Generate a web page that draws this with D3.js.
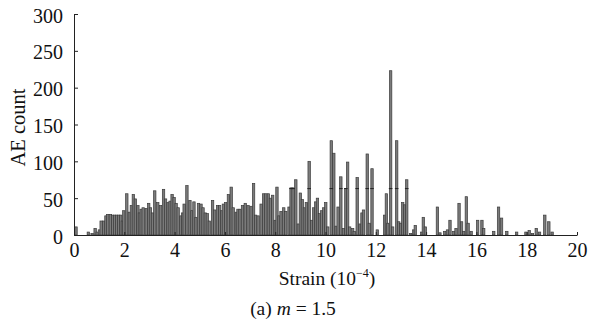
<!DOCTYPE html>
<html>
<head>
<meta charset="utf-8">
<script src="https://cdn.jsdelivr.net/npm/d3@7"></script>
<style>
  html, body { margin: 0; padding: 0; background: #fff; }
  svg text { font-family: "Liberation Serif", "DejaVu Serif", serif; fill: #111; }
</style>
</head>
<body>
<svg id="chart" width="594" height="320"></svg>
<script>
// --- data: strain (10^-4) and AE count per event bar ---
const strain = [
  0.08, 0.57, 0.72, 0.84, 0.92, 1.01, 1.08, 1.18, 1.27, 1.34, 1.45, 1.54, 1.62, 1.70, 1.78, 1.86, 1.92, 1.98,
  2.10, 2.20, 2.28, 2.36, 2.44, 2.54, 2.60, 2.67, 2.75, 2.87, 2.97, 3.04, 3.12, 3.21, 3.33, 3.44, 3.56, 3.64,
  3.74, 3.82, 3.90, 3.98, 4.06, 4.14, 4.25, 4.32, 4.38, 4.49, 4.61, 4.69, 4.77, 4.85, 4.95, 5.05, 5.13, 5.22,
  5.30, 5.38, 5.51, 5.59, 5.71, 5.79, 5.87, 5.94, 6.03, 6.14, 6.25, 6.33, 6.45, 6.52, 6.60, 6.70, 6.81, 6.92,
  7.04, 7.14, 7.22, 7.32, 7.44, 7.54, 7.63, 7.73, 7.81, 7.90, 8.00, 8.07, 8.15, 8.23, 8.34, 8.42, 8.55, 8.63,
  8.71, 8.82, 8.92, 9.00, 9.08, 9.16, 9.24, 9.35, 9.45, 9.53, 9.61, 9.68, 9.76, 9.84, 9.93, 10.01, 10.09,
  10.23, 10.33, 10.42, 10.50, 10.61, 10.72, 10.81, 10.88, 10.96, 11.08, 11.14, 11.26, 11.37, 11.45, 11.51,
  11.66, 11.74, 11.85, 12.06, 12.35, 12.42, 12.48, 12.59, 12.67, 12.83, 12.91, 12.99, 13.07, 13.15, 13.23,
  13.39, 13.51, 13.57, 13.83, 13.89, 13.97, 14.45, 14.55, 14.74, 14.85, 14.95, 15.10, 15.19, 15.31, 15.41,
  15.50, 15.60, 15.67, 15.79, 16.05, 16.22, 16.29, 16.69, 16.88, 17.00, 17.21, 17.60, 17.97, 18.10, 18.23,
  18.38, 18.51, 18.72, 18.88, 19.01
];
const aeCount = [
  11, 4, 2, 9, 4, 7, 19, 19, 26, 28, 28, 27, 27, 27, 27, 27, 19, 33,
  56, 31, 40, 55, 49, 40, 30, 35, 37, 36, 43, 37, 30, 60, 44, 40, 62, 49,
  44, 46, 55, 51, 43, 37, 26, 30, 42, 67, 47, 33, 45, 24, 43, 42, 37, 30,
  29, 19, 47, 34, 40, 40, 33, 42, 44, 55, 65, 37, 31, 35, 35, 40, 43, 40,
  39, 70, 27, 26, 42, 56, 56, 56, 50, 54, 20, 65, 26, 32, 37, 32, 38, 64,
  64, 75, 15, 57, 48, 37, 44, 100, 20, 37, 45, 50, 29, 33, 37, 44, 11,
  128, 111, 12, 38, 79, 9, 63, 99, 11, 9, 5, 78, 15, 30, 34,
  110, 16, 90, 7, 27, 56, 16, 223, 11, 128, 18, 16, 44, 41, 75,
  2, 7, 13, 4, 24, 11, 38, 3, 5, 7, 20, 5, 9, 43, 18,
  5, 52, 16, 5, 20, 20, 9, 5, 38, 23, 5, 4, 4, 6, 2,
  9, 4, 27, 18, 4
];
// dark dashes seen across the tall bars (tops of hidden overlapping bars)
const dashStrain = [8.63, 8.71, 9.35, 10.23, 10.61, 10.81, 11.26, 11.66, 11.85, 12.59, 12.83, 13.23];
const dashCount = 63;

const xTicks = [0, 2, 4, 6, 8, 10, 12, 14, 16, 18, 20];
const yTicks = [0, 50, 100, 150, 200, 250, 300];

const svg = d3.select("#chart");
const m = { left: 74, right: 577, top: 14, bottom: 235 };

const x = d3.scaleLinear().domain([0, 20]).range([m.left, m.right]);
const y = d3.scaleLinear().domain([0, 300]).range([m.bottom, m.top]);

const bars = strain.map((s, i) => ({ s: s, v: aeCount[i] }));
const barW = 2.4;

// bars
svg.append("g")
  .selectAll("rect")
  .data(bars)
  .enter().append("rect")
  .attr("x", d => x(d.s) - barW / 2)
  .attr("y", d => y(d.v))
  .attr("width", barW)
  .attr("height", d => y(0) - y(d.v))
  .attr("fill", "#7b7b7b")
  .attr("stroke", "#3a3a3a")
  .attr("stroke-width", 0.7);

// dashes on tall bars
svg.append("g")
  .selectAll("line")
  .data(dashStrain)
  .enter().append("line")
  .attr("x1", d => x(d) - 1.8)
  .attr("x2", d => x(d) + 1.8)
  .attr("y1", y(dashCount))
  .attr("y2", y(dashCount))
  .attr("stroke", "#222")
  .attr("stroke-width", 1);

// axes (inward ticks)
const yAxis = d3.axisLeft(y).tickValues(yTicks).tickSizeInner(-4).tickSizeOuter(0).tickFormat(d3.format("d"));
const gy = svg.append("g").attr("transform", `translate(${m.left},0)`).call(yAxis);
gy.select(".domain").attr("stroke", "#222");
gy.selectAll(".tick line").attr("stroke", "#222");
gy.selectAll(".tick text")
  .attr("x", -11)
  .attr("dy", "0.4em")
  .style("font-size", "20px")
  .style("font-family", "Liberation Serif");

const xAxis = d3.axisBottom(x).tickValues(xTicks).tickSizeInner(-3).tickSizeOuter(0);
const gx = svg.append("g").attr("transform", `translate(0,${m.bottom})`).call(xAxis);
gx.select(".domain").attr("stroke", "#222");
gx.selectAll(".tick line").attr("stroke", "#222");
gx.selectAll(".tick text")
  .attr("y", 7)
  .attr("dy", "0.75em")
  .style("font-size", "20px")
  .style("font-family", "Liberation Serif");
svg.selectAll(".tick text").attr("fill", "#111");

// titles
svg.append("text")
  .attr("transform", `translate(25,${(m.top + m.bottom) / 2 + 3}) rotate(-90)`)
  .attr("text-anchor", "middle")
  .style("font-size", "20.5px")
  .text("AE count");

const xt = svg.append("text")
  .attr("x", 327)
  .attr("y", 285)
  .attr("text-anchor", "middle")
  .style("font-size", "19.5px");
xt.append("tspan").text("Strain (10");
xt.append("tspan").attr("dy", -8).style("font-size", "12px").text("−4");
xt.append("tspan").attr("dy", 8).text(")");

const cap = svg.append("text")
  .attr("x", 293)
  .attr("y", 315)
  .attr("text-anchor", "middle")
  .style("font-size", "19.5px");
cap.append("tspan").text("(a) ");
cap.append("tspan").style("font-style", "italic").text("m");
cap.append("tspan").text(" = 1.5");
</script>
</body>
</html>
